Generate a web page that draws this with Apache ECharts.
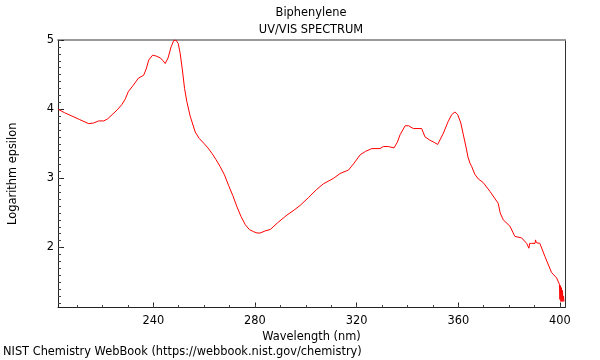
<!DOCTYPE html>
<html><head><meta charset="utf-8">
<script src="https://cdn.jsdelivr.net/npm/echarts@6/dist/echarts.min.js"></script>
<style>html,body{margin:0;padding:0;background:#fff}#c{width:600px;height:360px}</style>
</head><body><div id="c"></div>
<script>
const wavelength = [202.5,205,208,211,214.6,216.5,218.5,220.5,222,223.8,225.8,227.7,229,230.1,232,234.2,236.2,237.2,238.2,239.7,241,242.8,243.8,244.7,245.8,247,248,248.9,249.8,250.6,251.4,252.3,253.2,254.5,256.5,258,259.8,261.5,263.1,264.7,266.3,268,269.6,271.3,272.9,274.5,276.2,277.8,279.4,280.8,282.1,284,286,289,292.6,295,297.8,301,304.3,306.9,310.9,313.5,316.8,319,321.4,323.5,326,329.2,330.5,332.5,334.7,336,337.1,339.1,340.5,342.3,345.6,346.9,348.9,350.5,351.9,354.1,356,357.4,358.7,359.8,361,362,363.3,363.8,364.2,364.6,365.3,366.5,367.9,369.8,372.5,375.7,376.5,377.7,380.3,382.3,384.9,386.9,387.6,387.8,388.1,388.9,390.2,390.4,390.7,392.1,394.1,396.7,398.7,399.8,400,400.2,400.4,400.6,400.8,401,401.2,401.4,401.6];
const logEpsilon = [4.00,3.95,3.90,3.85,3.79,3.80,3.83,3.83,3.86,3.92,3.99,4.07,4.15,4.25,4.34,4.45,4.49,4.58,4.71,4.78,4.77,4.74,4.70,4.66,4.74,4.90,4.99,5.00,4.95,4.80,4.58,4.30,4.11,3.90,3.67,3.58,3.51,3.44,3.36,3.27,3.17,3.05,2.90,2.75,2.59,2.45,2.33,2.26,2.23,2.21,2.21,2.24,2.26,2.36,2.47,2.53,2.61,2.72,2.84,2.92,3.00,3.07,3.12,3.22,3.34,3.39,3.43,3.43,3.46,3.46,3.44,3.52,3.63,3.76,3.76,3.72,3.72,3.60,3.55,3.52,3.49,3.65,3.82,3.92,3.96,3.92,3.80,3.63,3.41,3.31,3.33,3.22,3.17,3.06,2.99,2.94,2.81,2.64,2.50,2.40,2.31,2.16,2.14,2.06,2.05,1.99,2.06,2.06,2.06,2.11,2.07,2.06,1.87,1.64,1.56,1.47,1.25,1.45,1.22,1.42,1.22,1.38,1.22,1.30,1.22];
const xTickLabels = [240,280,320,360,400];
const yTickLabels = [2,3,4,5];
const xMinorTicks = [];
for (let v = 210; v <= 400; v += 10) xMinorTicks.push(v);
const yMinorTicks = [];
for (let i = 12; i <= 50; i++) yMinorTicks.push(i / 10);

const FONT = 'DejaVu Sans';
const FS = 11.4;
const X_MIN = 202.5, X_MAX = 402, Y_MIN = 1.133, Y_MAX = 5.0;
const chart = echarts.init(document.getElementById('c'));
const blank = {show:false};
const f = FS + 'px "DejaVu Sans"';
chart.setOption({
  animation: false,
  textStyle: {fontFamily: FONT},
  grid: {left: 58, right: 35, top: 40, bottom: 52.5, containLabel:false, outerBoundsMode:'none'},
  graphic: [
    {type:'text', style:{text:'Biphenylene', font:f, fill:'#000', x:311, y:13, align:'center', verticalAlign:'middle'}},
    {type:'text', style:{text:'UV/VIS SPECTRUM', font:f, fill:'#000', x:311, y:30, align:'center', verticalAlign:'middle'}},
    {type:'text', style:{text:'NIST Chemistry WebBook (https://webbook.nist.gov/chemistry)', font:f, fill:'#000', x:3, y:352, align:'left', verticalAlign:'middle'}}
  ],
  xAxis: [
    {type:'value', min:X_MIN, max:X_MAX, position:'bottom',
     axisLine:{show:true, lineStyle:{color:'#222', width:1}},
     axisTick:{show:true, inside:true, length:5, customValues:xTickLabels, lineStyle:{color:'#222'}},
     axisLabel:{show:true, customValues:xTickLabels, color:'#000', fontSize:FS, fontFamily:FONT, margin:8},
     splitLine:blank,
     name:'Wavelength (nm)', nameLocation:'middle', nameGap:24,
     nameTextStyle:{color:'#000', fontSize:FS, fontFamily:FONT}},
    {type:'value', min:X_MIN, max:X_MAX, position:'bottom',
     axisLine:blank,
     axisTick:{show:true, inside:true, length:2.5, customValues:xMinorTicks, lineStyle:{color:'#444'}},
     axisLabel:blank, splitLine:blank},
    {type:'value', min:X_MIN, max:X_MAX, position:'top',
     axisLine:{show:true, lineStyle:{color:'#999', width:2}},
     axisTick:blank, axisLabel:blank, splitLine:blank}
  ],
  yAxis: [
    {type:'value', min:Y_MIN, max:Y_MAX, position:'left',
     axisLine:{show:true, lineStyle:{color:'#222', width:1}},
     axisTick:{show:true, inside:true, length:6, customValues:yTickLabels, lineStyle:{color:'#222'}},
     axisLabel:{show:true, customValues:yTickLabels, color:'#000', fontSize:FS, fontFamily:FONT, margin:4},
     splitLine:blank,
     name:'Logarithm epsilon', nameLocation:'middle', nameGap:39, nameRotate:90,
     nameTextStyle:{color:'#000', fontSize:FS, fontFamily:FONT}},
    {type:'value', min:Y_MIN, max:Y_MAX, position:'left',
     axisLine:blank,
     axisTick:{show:true, inside:true, length:3, customValues:yMinorTicks, lineStyle:{color:'#444'}},
     axisLabel:blank, splitLine:blank},
    {type:'value', min:Y_MIN, max:Y_MAX, position:'right',
     axisLine:{show:true, lineStyle:{color:'#333', width:1}},
     axisTick:blank, axisLabel:blank, splitLine:blank}
  ],
  series: [{
    type:'line', xAxisIndex:0, yAxisIndex:0,
    data: wavelength.map((w, i) => [w, logEpsilon[i]]),
    showSymbol:false, symbol:'none', smooth:false,
    lineStyle:{color:'#ff0000', width:1}, itemStyle:{color:'#ff0000'},
    clip:true
  }]
});
</script></body></html>
